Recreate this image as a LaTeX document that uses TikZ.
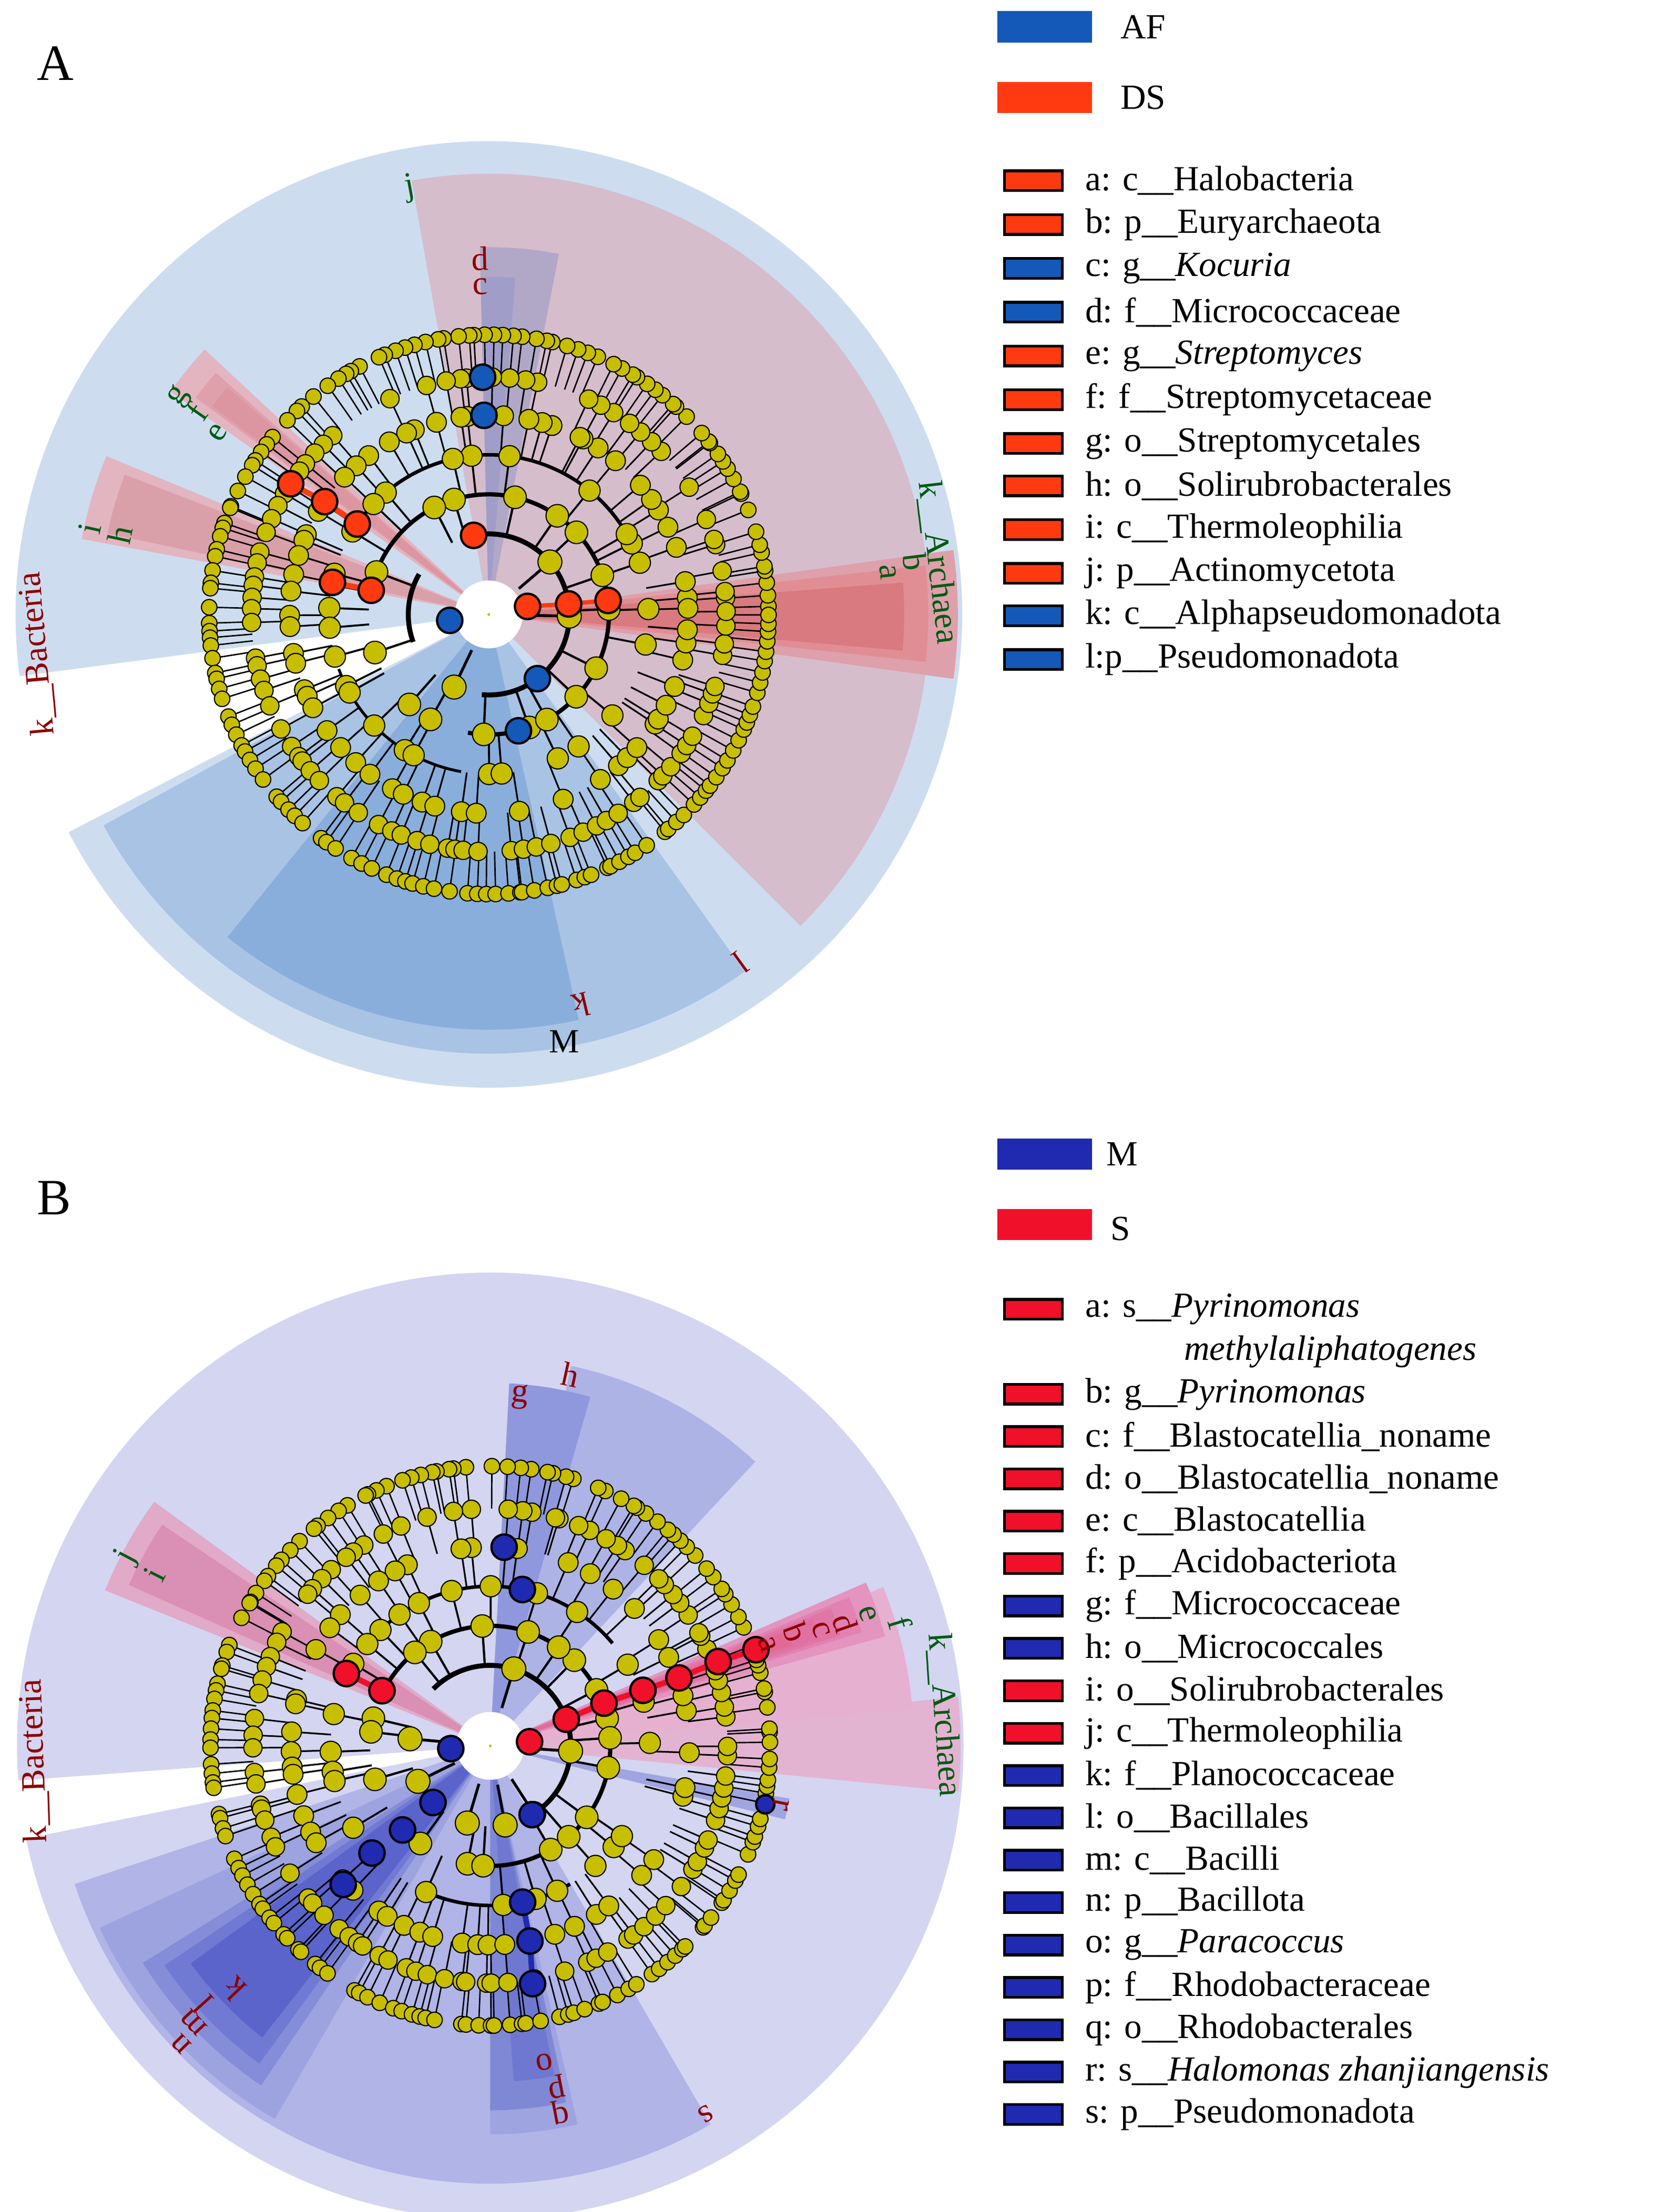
\documentclass[tikz,border=0pt]{standalone}
\usepackage{fontspec}
\setmainfont{Liberation Serif}
\definecolor{yel}{RGB}{200,190,0}
\definecolor{redA}{RGB}{255,58,16}
\definecolor{bluA}{RGB}{20,88,184}
\definecolor{redB}{RGB}{240,16,42}
\definecolor{bluB}{RGB}{31,42,176}
\definecolor{gtxt}{RGB}{0,90,20}
\definecolor{rtxt}{RGB}{140,0,0}
\newcommand\sect[4]{\fill[fill={#1}] (0,0) -- (#2:#4) arc[start angle=#2,end angle=#3,radius=#4] -- cycle;}
\newcommand\lab[4]{\node[font=\fontsize{24}{26}\selectfont,rotate={#1-90},text=#4,inner sep=0pt] at (#1:#2) {#3};}
\newcommand\treepass[2]{%
 \pgfmathsetseed{#1}%
 \foreach \R/\P/\N/\q/\s/\w in {57/28/9/0.4/8.5/2, 85/57/24/0.3/8/1.6, 113/85/44/0.3/7.5/1.4, 141/113/72/0.22/7/1.2, 168/141/110/0.15/6.5/1.1, 198/168/175/0.08/5.5/1}{%
  \foreach \i in {1,...,\N}{%
   \pgfmathsetmacro\u{rnd}%
   \pgfmathsetmacro\ang{(\i+0.45*rand)*(360/\N)}%
   \ifdim\u pt>\q pt
    \ifnum#2=0 \draw[line width=\w pt] (\ang:\P) -- (\ang:\R);\else \draw[fill=yel,line width=0.8pt] (\ang:\R) circle (\s);\fi
   \fi
  }}}
\tikzset{cn/.style={draw=black,line width=1.6pt,fill=#1},
 lbox/.style={draw=black,line width=2pt,fill=#1},
 ltxt/.style={anchor=west,font=\fontsize{25}{28}\selectfont,inner sep=0pt}}
\begin{document}
\begin{tikzpicture}[x=1pt,y=1pt]
\useasboundingbox (0,0) rectangle (1170,1566);
\coordinate (cA) at (346,1131);
\coordinate (cB) at (347,330);
% ================= Panel A
\begin{scope}[shift={(cA)}]
\sect{rgb,255:red,205;green,221;blue,239}{207.4}{547.5}{335}
\sect{rgb,255:red,214;green,189;blue,204}{-45}{100.1}{312}
\sect{rgb,255:red,169;green,195;blue,229}{208.7}{305.6}{311}
\sect{rgb,255:red,138;green,174;blue,219}{231}{282.5}{294}
\sect{rgb,255:red,176;green,168;blue,198}{79}{91.4}{260}
\sect{rgb,255:red,160;green,158;blue,200}{85.5}{91.4}{239}
\sect{rgb,255:red,222;green,160;blue,170}{-7.9}{7.9}{332}
\sect{rgb,255:red,224;green,142;blue,147}{-6.2}{6.4}{311}
\sect{rgb,255:red,217;green,122;blue,128}{-5}{4.4}{294}
\sect{rgb,255:red,226;green,181;blue,192}{137}{145}{275}
\sect{rgb,255:red,222;green,160;blue,170}{138.5}{143.5}{258}
\sect{rgb,255:red,220;green,150;blue,162}{139}{143}{245}
\sect{rgb,255:red,226;green,181;blue,192}{157.5}{169.5}{293}
\sect{rgb,255:red,218;green,160;blue,170}{159}{168}{276}
\fill[white] (0,0) circle (24);
\fill[yel] (0,0) circle (1);
\draw[line width=3.5pt] (-95:57) arc[start angle=-95,end angle=105,radius=57];
\draw[line width=3.5pt] (150:57) arc[start angle=150,end angle=200,radius=57];
\draw[line width=3pt] (-100:85) arc[start angle=-100,end angle=170,radius=85];
\draw[line width=2.5pt] (30:113) arc[start angle=30,end angle=150,radius=113];
\draw[line width=2pt] (200:113) arc[start angle=200,end angle=260,radius=113];
\treepass{11}{0}
\draw[redA,line width=4pt] (145.5:113) -- (145.5:141) -- (146.6:168);
\draw[redA,line width=4pt] (168.4:85) -- (168.4:113);
\draw[redA,line width=3pt] (11.7:28) -- (7.5:57) -- (6.7:85);
\treepass{11}{1}
\foreach \a/\r in {188.7/28,-52.9/57,-75.7/85,91.4/141,91.5/168}{\draw[cn=bluA] (\a:\r) circle (9);}
\foreach \a/\r in {11.7/28,7.5/57,6.7/85,100.9/57,168.4/85,168.4/113,145.5/113,145.5/141,146.6/168}{\draw[cn=redA] (\a:\r) circle (9);}
\lab{100.5}{307}{j}{gtxt}
\lab{91.4}{252}{d}{rtxt}
\lab{91.5}{232}{c}{rtxt}
\lab{144.9}{268}{g}{gtxt}
\lab{145.2}{252}{f}{gtxt}
\lab{146.2}{231}{e}{gtxt}
\lab{167.8}{289}{i}{gtxt}
\lab{167.8}{267}{h}{gtxt}
\lab{185}{321}{k\_\_Bacteria}{rtxt}
\lab{6.6}{320}{k\_\_Archaea}{gtxt}
\lab{7}{304}{b}{gtxt}
\lab{6.1}{284}{a}{gtxt}
\lab{-54.1}{304}{l}{rtxt}
\lab{-76.7}{284}{k}{rtxt}
\node[font=\fontsize{24}{26}\selectfont,inner sep=0pt] at (-80:307) {M};
\end{scope}
% ================= Panel B
\begin{scope}[shift={(cB)}]
\sect{rgb,255:red,211;green,213;blue,241}{191.3}{544.2}{335}
\sect{rgb,255:red,176;green,180;blue,230}{198.4}{300.2}{310}
\sect{rgb,255:red,157;green,163;blue,223}{205}{240}{305}
\sect{rgb,255:red,133;green,141;blue,216}{212}{236}{290}
\sect{rgb,255:red,112;green,122;blue,210}{214}{234}{278}
\sect{rgb,255:red,90;green,100;blue,203}{216}{232}{262}
\sect{rgb,255:red,158;green,164;blue,224}{-90}{-77}{275}
\sect{rgb,255:red,127;green,136;blue,213}{-90}{-78}{258}
\sect{rgb,255:red,111;green,120;blue,208}{-86}{-79}{238}
\sect{rgb,255:red,174;green,179;blue,230}{47}{78}{275}
\sect{rgb,255:red,143;green,152;blue,220}{74}{87}{257}
\sect{rgb,255:red,224;green,170;blue,200}{144}{158}{294}
\sect{rgb,255:red,218;green,143;blue,180}{146}{156}{280}
\sect{rgb,255:red,227;green,180;blue,209}{-5.6}{6}{333}
\sect{rgb,255:red,230;green,176;blue,208}{5}{22}{300}
\sect{rgb,255:red,227;green,148;blue,191}{15.5}{23.5}{290}
\sect{rgb,255:red,225;green,130;blue,178}{17}{22.5}{275}
\sect{rgb,255:red,224;green,118;blue,165}{17.5}{22}{260}
\sect{rgb,255:red,224;green,112;blue,159}{18}{21.5}{245}
\sect{rgb,255:red,224;green,105;blue,150}{18.5}{21}{225}
\sect{rgb,255:red,160;green,165;blue,225}{-14}{-10}{215}
\fill[white] (0,0) circle (24);
\fill[yel] (0,0) circle (1);
\draw[line width=3.5pt] (-60:57) arc[start angle=-60,end angle=135,radius=57];
\draw[line width=3pt] (-95:85) arc[start angle=-95,end angle=150,radius=85];
\draw[line width=2.5pt] (40:113) arc[start angle=40,end angle=140,radius=113];
\draw[line width=2.5pt] (-110:113) arc[start angle=-110,end angle=-60,radius=113];
\treepass{23}{0}
\draw[redB,line width=4pt] (19.3:57) -- (20.6:86) -- (20:115) -- (19.8:142) -- (20.3:172) -- (19.9:200);
\draw[redB,line width=4pt] (153:86) -- (153.3:114);
\draw[bluB,line width=4pt] (-78.3:113) -- (-78.5:141) -- (-79.9:171);
\treepass{23}{1}
\foreach \a/\r in {184/28,78.4/113,86/141,-58.7/57,-78.3/113,-78.5/141,-79.9/171,224.7/57,223.8/86,222.2/113,223.3/143}{\draw[cn=bluB] (\a:\r) circle (9);}
\draw[cn=bluB] (-12:199) circle (6.5);
\foreach \a/\r in {6/28,19.3/57,20.6/86,20/115,19.8/142,20.3/172,19.9/200,153/86,153.3/114}{\draw[cn=redB] (\a:\r) circle (9);}
\lab{77.8}{269}{h}{rtxt}
\lab{85.2}{248}{g}{rtxt}
\lab{152.5}{290}{j}{gtxt}
\lab{152.9}{267}{i}{gtxt}
\lab{181.9}{323}{k\_\_Bacteria}{rtxt}
\lab{3.9}{322}{k\_\_Archaea}{gtxt}
\lab{16.7}{303}{f}{gtxt}
\lab{19.3}{283}{e}{gtxt}
\lab{19.1}{266}{d}{rtxt}
\lab{19.4}{248}{c}{rtxt}
\lab{20.4}{231}{b}{rtxt}
\lab{20.1}{209}{a}{rtxt}
\lab{-11.4}{210}{r}{rtxt}
\lab{-80.3}{227}{o}{rtxt}
\lab{-79}{246}{p}{rtxt}
\lab{-79.2}{264}{q}{rtxt}
\lab{-59.7}{302}{s}{rtxt}
\lab{223.5}{250}{k}{rtxt}
\lab{222}{273}{l}{rtxt}
\lab{223}{287}{m}{rtxt}
\lab{224}{304}{n}{rtxt}
\end{scope}
% ================= Legends
\node[anchor=west,font=\fontsize{36}{40}\selectfont,inner sep=0pt] (LA) at (26,1521) {A};
\node[anchor=west,font=\fontsize{36}{40}\selectfont,inner sep=0pt] (LB) at (26,718) {B};
\fill[bluA] (706,1536) rectangle (773,1558);
\node[ltxt] (tAF) at (793,1547) {AF};
\fill[redA] (706,1486) rectangle (773,1508);
\node[ltxt] (tDS) at (793,1497) {DS};
\foreach \y/\c/\t in {128/redA/{a: c\_\_Halobacteria},159/redA/{b: p\_\_Euryarchaeota},190/bluA/{c: g\_\_\textit{Kocuria}},221/bluA/{d: f\_\_Micrococcaceae},252/redA/{e: g\_\_\textit{Streptomyces}},283/redA/{f: f\_\_Streptomycetaceae},314/redA/{g: o\_\_Streptomycetales},344/redA/{h: o\_\_Solirubrobacterales},375/redA/{i: c\_\_Thermoleophilia},406/redA/{j: p\_\_Actinomycetota},436/bluA/{k: c\_\_Alphapseudomonadota},467/bluA/{l:p\_\_Pseudomonadota}}{%
 \draw[lbox=\c] (711,1566-\y-7) rectangle (752,1566-\y+7);
 \node[ltxt] at (768,1566-\y) {\t};}
\fill[bluB] (706,738) rectangle (773,760);
\node[ltxt] (tM) at (783,749) {M};
\fill[redB] (706,688) rectangle (773,710);
\node[ltxt] (tS) at (786,696) {S};
\foreach \y/\c/\t in {927/redB/{a: s\_\_\textit{Pyrinomonas}},987/redB/{b: g\_\_\textit{Pyrinomonas}},1017/redB/{c: f\_\_Blastocatellia\_noname},1047/redB/{d: o\_\_Blastocatellia\_noname},1077/redB/{e: c\_\_Blastocatellia},1107/redB/{f: p\_\_Acidobacteriota},1137/bluB/{g: f\_\_Micrococcaceae},1167/bluB/{h: o\_\_Micrococcales},1197/redB/{i: o\_\_Solirubrobacterales},1227/redB/{j: c\_\_Thermoleophilia},1257/bluB/{k: f\_\_Planococcaceae},1287/bluB/{l: o\_\_Bacillales},1317/bluB/{m: c\_\_Bacilli},1347/bluB/{n: p\_\_Bacillota},1377/bluB/{o: g\_\_\textit{Paracoccus}},1407/bluB/{p: f\_\_Rhodobacteraceae},1437/bluB/{q: o\_\_Rhodobacterales},1467/bluB/{r: s\_\_\textit{Halomonas zhanjiangensis}},1497/bluB/{s: p\_\_Pseudomonadota}}{%
 \draw[lbox=\c] (711,1566-\y-7) rectangle (752,1566-\y+7);
 \node[ltxt] at (768,1566-\y) {\t};}
\node[ltxt] at (838,1566-957) {\textit{methylaliphatogenes}};
\end{tikzpicture}
\end{document}
